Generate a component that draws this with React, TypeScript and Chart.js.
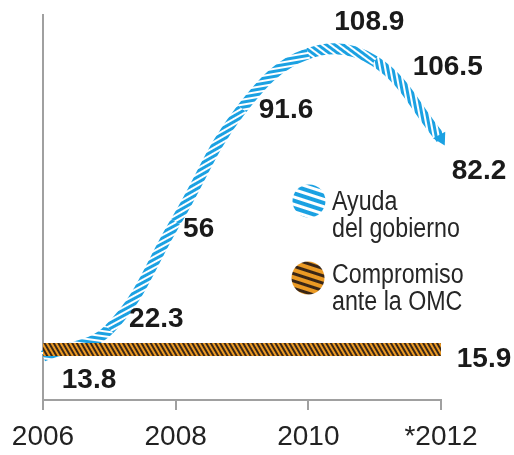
import React, { useEffect, useRef } from "react";
import { Chart, registerables } from "chart.js";

Chart.register(...registerables);

// ---- data ----
const years = [2006, 2007, 2008, 2009, 2010, 2011, 2012];
const ayuda = [13.8, 22.3, 56, 91.6, 108.9, 106.5, 82.2];
const ayudaLabels = ["13.8", "22.3", "56", "91.6", "108.9", "106.5", "82.2"];
const compromisoYears = [2006, 2012];
const compromiso = [15.9, 15.9];
const compromisoLabels = ["", "15.9"];
const xTickValues = [2006, 2008, 2010, 2012];
const xTickLabels = ["2006", "2008", "2010", "*2012"];
const legendAyuda = ["Ayuda", "del gobierno"];
const legendCompromiso = ["Compromiso", "ante la OMC"];

// ---- styles ----
const BLUE = "#1ba1e2";
const ORANGE = "#eb9a24";
const DARK = "#3a2616";
const AXIS = "#a0a0a0";
const TEXT = "#1a1a1a";
const AYUDA_OFFSETS = [[46, 24], [47, -10], [23, 7], [44, 2], [61, -31], [73, 6], [38, 33]];
const COMP_OFFSETS = [[0, 0], [43, 10]];
const LEGEND_POS = [
  { cx: 309, cy: 201, tx: 332, ty: [210, 237] },
  { cx: 308, cy: 278, tx: 332, ty: [283, 310] },
];

function stripe(
  ctx: CanvasRenderingContext2D,
  a: string,
  b: string,
  wa: number,
  wb: number,
  angle: number
) {
  const t = document.createElement("canvas");
  t.width = 8;
  t.height = wa + wb;
  const c = t.getContext("2d")!;
  c.fillStyle = a;
  c.fillRect(0, 0, 8, wa);
  c.fillStyle = b;
  c.fillRect(0, wa, 8, wb);
  const p = ctx.createPattern(t, "repeat")!;
  p.setTransform(new DOMMatrix().rotate(angle));
  return p;
}

export default function App() {
  const ref = useRef<HTMLCanvasElement | null>(null);
  useEffect(() => {
    const canvas = ref.current!;
    const ctx2d = canvas.getContext("2d")!;
    const orangePattern = stripe(ctx2d, DARK, ORANGE, 2, 2, 60);

    const labelPlugin = {
      id: "valueLabels",
      afterDatasetsDraw(chart: any) {
        const { ctx, scales } = chart;
        const x = scales.x;
        const y = scales.y;
        ctx.save();
        ctx.font = "bold 28px 'Liberation Sans', Arial, sans-serif";
        ctx.fillStyle = TEXT;
        ctx.textAlign = "center";
        ctx.textBaseline = "middle";
        const sets = [
          { xs: years, vs: ayuda, ls: ayudaLabels, off: AYUDA_OFFSETS },
          { xs: compromisoYears, vs: compromiso, ls: compromisoLabels, off: COMP_OFFSETS },
        ];
        sets.forEach((s) => {
          s.vs.forEach((v, i) => {
            if (!s.ls[i]) return;
            const px = x.getPixelForValue(s.xs[i]) + s.off[i][0];
            const py = y.getPixelForValue(v) + s.off[i][1];
            ctx.fillText(s.ls[i], px, py);
          });
        });
        ctx.restore();
      },
    };

    const legendPlugin = {
      id: "customLegend",
      afterDraw(chart: any) {
        const { ctx } = chart;
        const items = [
          { lines: legendAyuda, pat: stripe(ctx, BLUE, "#ffffff", 4, 3, 18) },
          { lines: legendCompromiso, pat: stripe(ctx, DARK, ORANGE, 3, 4, 18) },
        ];
        items.forEach((it, i) => {
          const p = LEGEND_POS[i];
          ctx.save();
          ctx.beginPath();
          ctx.arc(p.cx, p.cy, 16.5, 0, Math.PI * 2);
          ctx.fillStyle = it.pat;
          ctx.fill();
          ctx.restore();
          ctx.save();
          ctx.font = "27px 'Liberation Sans', Arial, sans-serif";
          ctx.fillStyle = "#262626";
          ctx.textAlign = "left";
          ctx.textBaseline = "alphabetic";
          it.lines.forEach((t, j) => {
            ctx.save();
            ctx.translate(p.tx, p.ty[j]);
            ctx.scale(0.86, 1);
            ctx.fillText(t, 0, 0);
            ctx.restore();
          });
          ctx.restore();
        });
      },
    };

    const chart = new Chart(canvas, {
      type: "line",
      data: {
        datasets: [
          {
            label: legendCompromiso.join(" "),
            data: compromisoYears.map((yr, i) => ({ x: yr, y: compromiso[i] })),
            borderColor: orangePattern as any,
            borderWidth: 13,
            borderCapStyle: "butt",
            pointRadius: 0,
            tension: 0,
            order: 0,
            clip: false as any,
          },
          {
            label: legendAyuda.join(" "),
            data: years.map((yr, i) => ({ x: yr, y: ayuda[i] })),
            borderColor: BLUE,
            borderWidth: 11,
            borderCapStyle: "butt",
            tension: 0.4,
            pointRadius: years.map((_, i) => (i === years.length - 1 ? 8 : 0)),
            pointStyle: "triangle",
            pointRotation: 152,
            pointBackgroundColor: BLUE,
            pointBorderWidth: 0,
            order: 1,
            clip: false as any,
            segment: {
              borderColor: (sctx: any) => {
                const a =
                  (Math.atan2(sctx.p1.y - sctx.p0.y, sctx.p1.x - sctx.p0.x) * 180) /
                  Math.PI;
                return stripe(ctx2d, BLUE, "#ffffff", 3, 2, a + 30) as any;
              },
            },
          },
        ],
      },
      options: {
        responsive: false,
        animation: false,
        devicePixelRatio: 1,
        layout: { padding: { left: 43, right: 73, top: 15, bottom: 1 } },
        plugins: { legend: { display: false }, tooltip: { enabled: false } },
        scales: {
          x: {
            type: "linear",
            min: 2006,
            max: 2012,
            afterBuildTicks: (axis: any) => {
              axis.ticks = xTickValues.map((v) => ({ value: v }));
            },
            afterFit: (axis: any) => {
              axis.height = 54;
            },
            ticks: {
              callback: (v: any) => {
                const i = xTickValues.indexOf(Number(v));
                return i >= 0 ? xTickLabels[i] : "";
              },
              font: { family: "'Liberation Sans', Arial, sans-serif", size: 28 },
              color: "#222",
              padding: 10,
              maxRotation: 0,
              autoSkip: false,
            },
            grid: {
              display: true,
              drawOnChartArea: false,
              drawTicks: true,
              tickLength: 10,
              color: AXIS,
              lineWidth: 2,
            },
            border: { display: true, color: AXIS, width: 2 },
          },
          y: {
            min: 0,
            max: 121,
            ticks: { display: false },
            grid: { display: false, drawTicks: false },
            border: { display: true, color: AXIS, width: 2 },
          },
        },
      },
      plugins: [labelPlugin, legendPlugin],
    });
    return () => chart.destroy();
  }, []);

  return (
    <div
      style={{
        position: "fixed",
        left: 0,
        top: 0,
        width: 514,
        height: 455,
        background: "#fff",
      }}
    >
      <canvas ref={ref} width={514} height={455} />
    </div>
  );
}
